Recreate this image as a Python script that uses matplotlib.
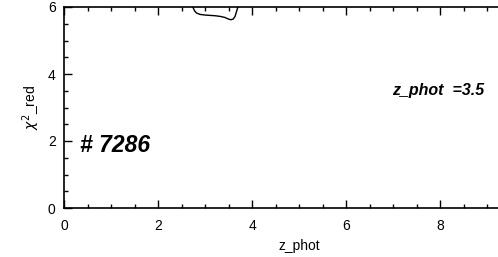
import numpy as np
import matplotlib.pyplot as plt
from matplotlib.ticker import MultipleLocator, FixedLocator

# chi2 curve (only the part inside the y range is visible)
z = [2.70, 2.74, 2.78, 2.82, 2.89, 3.00, 3.10, 3.21, 3.32, 3.42, 3.50, 3.55, 3.60, 3.64, 3.67, 3.70, 3.74]
chi2 = [6.10, 6.00, 5.88, 5.82, 5.78, 5.76, 5.75, 5.74, 5.72, 5.69, 5.64, 5.62, 5.64, 5.72, 5.86, 6.00, 6.15]

obj_id = '# 7286'
z_best = 3.5
xticks = [0, 2, 4, 6, 8]

plt.rcParams['font.family'] = ['Liberation Sans', 'DejaVu Sans']

fig = plt.figure(figsize=(4.98, 2.57), dpi=100)
# axes run past the right edge of the figure, like the original
ax = fig.add_axes([64 / 498, 49 / 257, 470 / 498, 201 / 257])

ax.plot(z, chi2, color='black', lw=1.0)
ax.set_xlim(0, 10)
ax.set_ylim(0, 6)

ax.xaxis.set_major_locator(FixedLocator(xticks))
ax.xaxis.set_minor_locator(MultipleLocator(0.5))
ax.yaxis.set_major_locator(MultipleLocator(2))
ax.yaxis.set_minor_locator(MultipleLocator(0.5))
ax.tick_params(which='both', direction='in', top=True, right=False, labelsize=10, width=1)
ax.tick_params(axis='x', pad=8)
ax.tick_params(axis='y', pad=6)
ax.tick_params(which='major', length=6)
ax.tick_params(which='minor', length=3)
ax.spines['right'].set_visible(False)
for s in ['left', 'bottom', 'top']:
    ax.spines[s].set_linewidth(1.2)

ax.set_xlabel('z_phot', fontsize=10, labelpad=4)
ax.set_ylabel(r'$\chi^2$_red', fontsize=10, labelpad=4)

ax.text(0.34, 1.88, obj_id, fontsize=16.5, fontweight='bold', fontstyle='italic', va='center', ha='left')
ax.text(6.98, 3.5, 'z_phot  =' + str(z_best), fontsize=11.5, fontweight='bold', fontstyle='italic', va='center', ha='left')

fig.savefig('out.png', dpi=100)
